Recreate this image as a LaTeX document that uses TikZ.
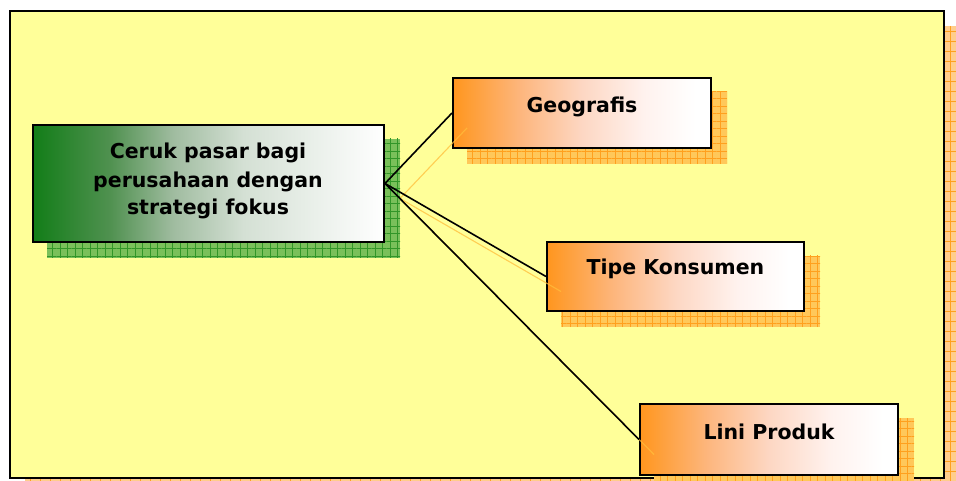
\documentclass[tikz,border=0pt]{standalone}
\usepackage{fontspec}
\setmainfont{DejaVu Sans}
\usetikzlibrary{patterns.meta,backgrounds}
\definecolor{bgyellow}{RGB}{255,255,153}
\definecolor{gA}{RGB}{18,125,24}
\definecolor{gB}{RGB}{80,145,80}
\definecolor{gC}{RGB}{160,188,160}
\definecolor{gD}{RGB}{212,224,212}
\definecolor{oA}{RGB}{255,150,30}
\definecolor{oB}{RGB}{253,182,125}
\definecolor{oC}{RGB}{253,215,195}
\definecolor{oD}{RGB}{255,242,238}
\definecolor{shG}{RGB}{122,192,90}
\definecolor{shGline}{RGB}{50,150,40}
\definecolor{shO}{RGB}{255,200,90}
\definecolor{shOline}{RGB}{255,160,30}
\definecolor{shF}{RGB}{255,205,140}
\definecolor{connO}{RGB}{255,190,60}
\pgfdeclarehorizontalshading{greenfade}{100bp}{color(0bp)=(gA); color(25bp)=(gA); color(36bp)=(gB); color(45bp)=(gC); color(55bp)=(gD); color(75bp)=(white); color(100bp)=(white)}
\pgfdeclarehorizontalshading{orangefade}{100bp}{color(0bp)=(oA); color(25bp)=(oA); color(38bp)=(oB); color(50bp)=(oC); color(62bp)=(oD); color(72bp)=(white); color(100bp)=(white)}
\begin{document}
\begin{tikzpicture}[x=1pt,y=-1pt,
  boxbase/.style={rectangle, draw=black, line width=2pt, inner sep=0pt, shade},
  mainbox/.style={boxbase, shading=greenfade, minimum width=351pt, minimum height=117pt},
  subbox/.style={boxbase, shading=orangefade, minimum width=258pt, minimum height=70pt},
  shadowG/.style={fill=shG, postaction={pattern={Hatch[angle=0,distance=7.5pt,line width=0.7pt]}, pattern color=shGline}},
  shadowO/.style={fill=shO, postaction={pattern={Hatch[angle=0,distance=7.5pt,line width=0.7pt]}, pattern color=shOline}},
  shadowF/.style={fill=shF, postaction={pattern={Hatch[angle=0,distance=10pt,line width=0.6pt]}, pattern color=shOline}},
  frame/.style={draw=black, line width=2.2pt, fill=bgyellow},
  conn/.style={draw=black, line width=1.6pt},
  connshadow/.style={draw=connO, line width=1.1pt, opacity=0.75},
  lbl/.style={font=\fontsize{20.5}{28}\selectfont\bfseries, align=center, inner sep=0pt}]
\useasboundingbox (0,0) rectangle (956,481);
% nodes
\node[mainbox] (main) at (208.5,183.5) {};
\node[subbox] (geo) at (582,113) {};
\node[subbox, minimum width=257pt, minimum height=69pt] (tipe) at (675.5,276.5) {};
\node[subbox, minimum width=258pt, minimum height=71pt] (lini) at (769,439.5) {};
\begin{scope}[on background layer]
  \fill[white] (0,0) rectangle (956,481);
  \fill[shadowF] (25,26) rectangle (960,495);
  \draw[frame] (10,11) rectangle (944,478);
  \fill[shadowG] ([shift={(15,15)}]main.north west) rectangle ([shift={(15,15)}]main.south east);
  \fill[shadowO] ([shift={(15,15)}]geo.north west) rectangle ([shift={(15,15)}]geo.south east);
  \fill[shadowO] ([shift={(15,15)}]tipe.north west) rectangle ([shift={(15,15)}]tipe.south east);
  \fill[shadowO] ([shift={(15,15)}]lini.north west) rectangle ([shift={(15,15)}]lini.south east);
\end{scope}
% shadow connectors
\draw[connshadow] ([shift={(15,15)}]main.east) -- ([shift={(15,15)}]geo.west);
\draw[connshadow] ([shift={(15,15)}]main.east) -- ([shift={(15,15)}]tipe.west);
\draw[connshadow] ([shift={(15,15)}]main.east) -- ([shift={(15,15)}]lini.west);
% connectors
\draw[conn] (main.east) -- (geo.west);
\draw[conn] (main.east) -- (tipe.west);
\draw[conn] (main.east) -- (lini.west);
% labels
\node[lbl, anchor=base] (tmain) at (208,215) {Ceruk pasar bagi\\perusahaan dengan\\strategi fokus};
\node[lbl, anchor=base] (tgeo) at (582,113) {Geografis};
\node[lbl, anchor=base] (ttipe) at (675.5,275) {Tipe Konsumen};
\node[lbl, anchor=base] (tlini) at (769,439) {Lini Produk};
\end{tikzpicture}
\end{document}
